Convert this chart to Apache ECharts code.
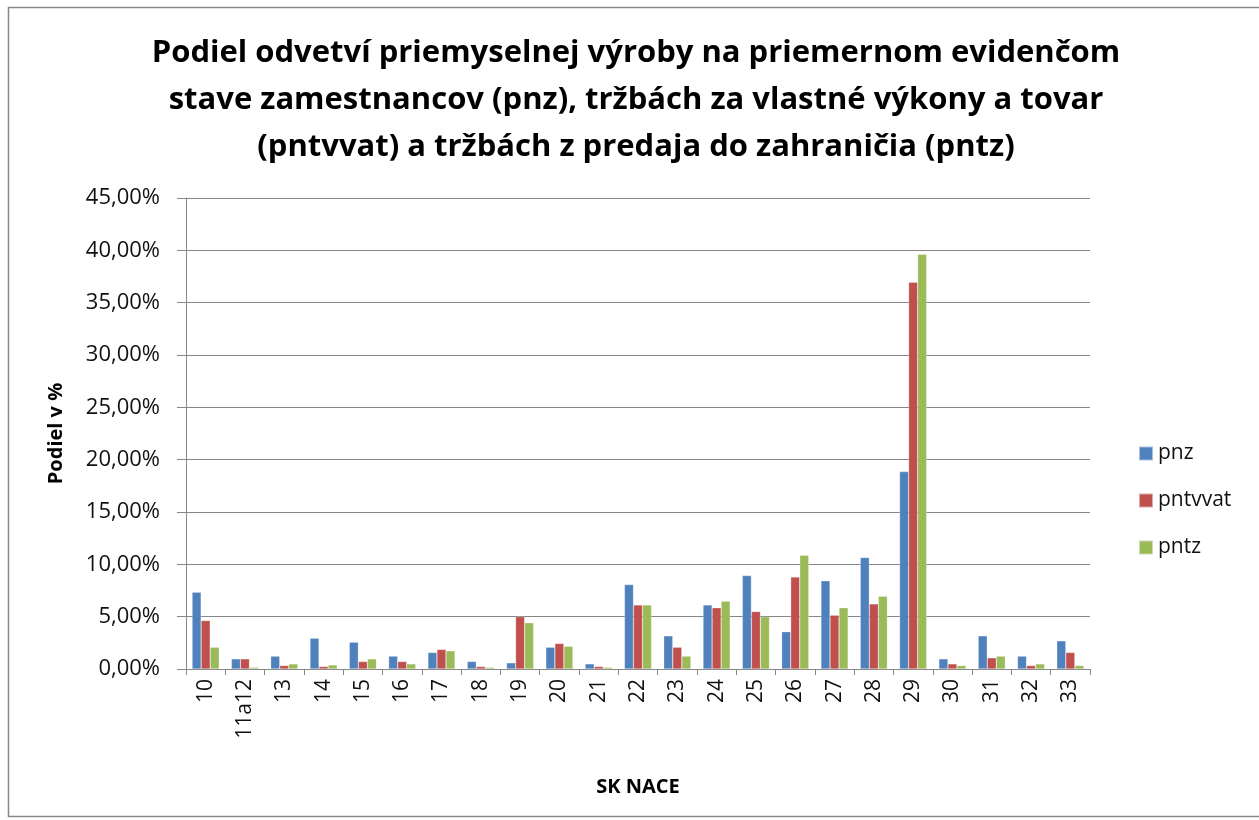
<!DOCTYPE html>
<html>
<head>
  <meta charset="utf-8">
  <title>Podiel odvetví</title>
  <style>
    html, body, #main { width: 100%; height: 100%; margin: 0; padding: 0; background: #fff; }
  </style>
  <script src="https://cdn.jsdelivr.net/npm/echarts@6/dist/echarts.min.js"></script>
</head>
<body>
  <div id="main"></div>
  <script>
    // SK NACE categories
    var categories = ['10', '11a12', '13', '14', '15', '16', '17', '18', '19', '20', '21', '22',
      '23', '24', '25', '26', '27', '28', '29', '30', '31', '32', '33'];

    // shares in %
    var pnz = [7.34, 0.97, 1.23, 2.94, 2.56, 1.23, 1.58, 0.72, 0.59, 2.08, 0.49, 8.07,
      3.17, 6.12, 8.93, 3.56, 8.43, 10.65, 18.86, 0.97, 3.17, 1.23, 2.69];
    var pntvvat = [4.63, 0.97, 0.33, 0.24, 0.72, 0.72, 1.87, 0.24, 4.99, 2.44, 0.24, 6.12,
      2.08, 5.85, 5.49, 8.8, 5.14, 6.22, 36.94, 0.49, 1.07, 0.33, 1.58];
    var pntz = [2.08, 0.15, 0.49, 0.39, 0.97, 0.49, 1.74, 0.15, 4.42, 2.17, 0.15, 6.12,
      1.23, 6.48, 4.99, 10.87, 5.85, 6.95, 39.62, 0.33, 1.23, 0.49, 0.33];

    var font = 'Open Sans';
    var chart = echarts.init(document.getElementById('main'));

    function bar(name, data, color) {
      return {
        name: name,
        type: 'bar',
        data: data,
        barGap: '0%',
        barCategoryGap: '31%',
        itemStyle: { color: color, borderColor: 'rgba(255,255,255,0.5)', borderWidth: 0.5 }
      };
    }

    chart.setOption({
      animation: false,
      textStyle: { fontFamily: font },
      title: {
        text: 'Podiel odvetví priemyselnej výroby na priemernom evidenčom\nstave zamestnancov (pnz), tržbách za vlastné výkony a tovar\n(pntvvat) a tržbách z predaja do zahraničia (pntz)',
        left: 631,
        textAlign: 'center',
        top: 25,
        textStyle: { fontFamily: font, fontSize: 31, fontWeight: 'bold', color: '#000', lineHeight: 47 }
      },
      legend: {
        orient: 'vertical',
        left: 1133,
        top: 438,
        itemWidth: 14,
        itemHeight: 14,
        itemGap: 26,
        icon: 'rect',
        textStyle: { fontFamily: font, fontSize: 21, color: '#111' },
        data: ['pnz', 'pntvvat', 'pntz']
      },
      grid: { left: 186, right: 169, top: 198, bottom: 151, containLabel: false },
      xAxis: {
        type: 'category',
        data: categories,
        name: 'SK NACE',
        nameLocation: 'middle',
        nameGap: 108,
        nameTextStyle: { fontFamily: font, fontSize: 20, fontWeight: 'bold', color: '#000' },
        axisLine: { lineStyle: { color: '#868686' } },
        axisTick: { show: true, length: 6, lineStyle: { color: '#868686' } },
        axisLabel: { rotate: 90, fontSize: 21, color: '#111', margin: 10, fontFamily: font }
      },
      yAxis: {
        type: 'value',
        min: 0,
        max: 45,
        interval: 5,
        name: 'Podiel v %',
        nameLocation: 'middle',
        nameGap: 120,
        nameRotate: 90,
        nameTextStyle: { fontFamily: font, fontSize: 20, fontWeight: 'bold', color: '#000' },
        axisLine: { show: true, lineStyle: { color: '#868686' } },
        axisTick: { show: true, length: 9, inside: false, lineStyle: { color: '#868686' } },
        axisLabel: {
          fontSize: 22, color: '#111', margin: 26, fontFamily: font,
          formatter: function (v) { return v.toFixed(2).replace('.', ',') + '%'; }
        },
        splitLine: { lineStyle: { color: '#868686', width: 1 } }
      },
      graphic: [{
        type: 'rect',
        shape: { x: 8.5, y: 7.5, width: 1260, height: 809 },
        style: { fill: null, stroke: '#888', lineWidth: 1.5 },
        silent: true
      }],
      series: [
        bar('pnz', pnz, '#4F81BD'),
        bar('pntvvat', pntvvat, '#C0504D'),
        bar('pntz', pntz, '#9BBB59')
      ]
    });
  </script>
</body>
</html>
